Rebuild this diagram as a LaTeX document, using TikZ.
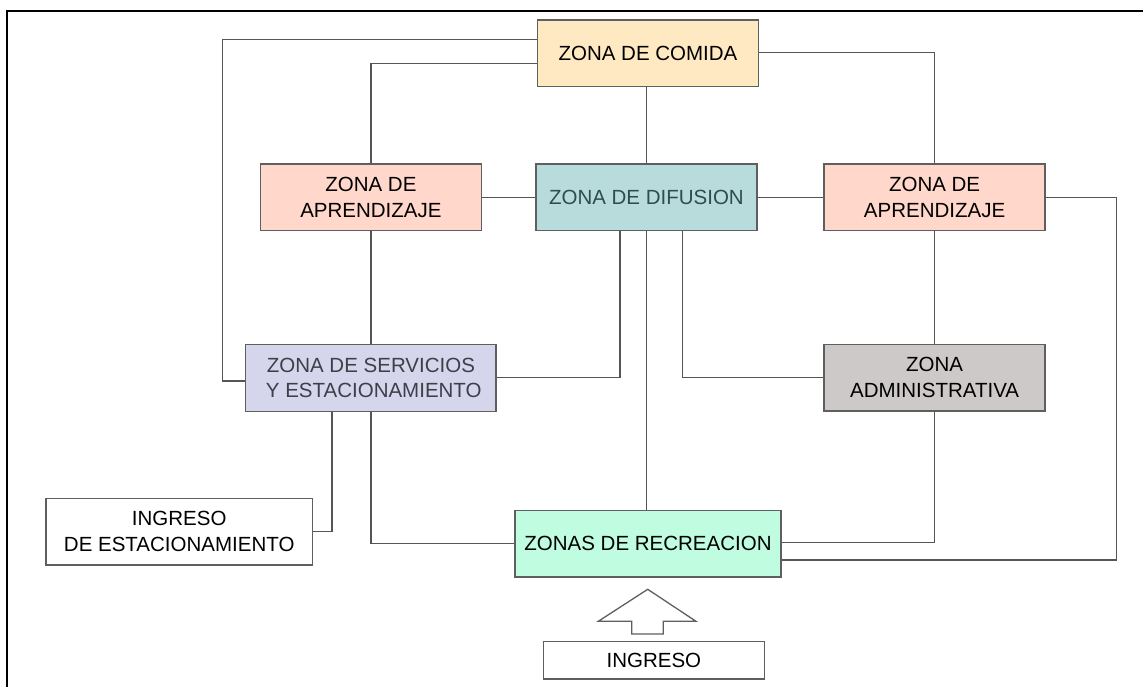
\documentclass[tikz,border=0pt]{standalone}
\usepackage{fontspec}
\setmainfont{Liberation Sans}
\definecolor{cComida}{HTML}{FFE9C2}
\definecolor{cApr}{HTML}{FFD7CB}
\definecolor{cDif}{HTML}{B8DCDC}
\definecolor{cServ}{HTML}{D5D5EB}
\definecolor{cAdm}{HTML}{CDC9C9}
\definecolor{cRec}{HTML}{C0FCDF}
\definecolor{cBorder}{HTML}{5F5F5F}
\definecolor{cLine}{HTML}{555555}
\definecolor{tDif}{HTML}{2E4D4D}
\definecolor{tServ}{HTML}{3F3F4A}
\begin{document}
\begin{tikzpicture}[x=1pt,y=-1pt,
  zone/.style={draw=cBorder, line width=1.5pt, inner sep=0pt, align=center,
    minimum width=221pt, minimum height=66.5pt,
    font=\fontsize{20.5}{25.6}\selectfont},
  link/.style={draw=cLine, line width=1.4pt, line join=miter}]
\useasboundingbox (0,0) rectangle (1143,687);
% frame (left and top edges visible)
\draw[line width=2.2pt, black] (7,687) -- (7,10.7) -- (1143,10.7);

% nodes
\node[zone, fill=cComida] (comida) at (648,53.3) {ZONA DE COMIDA};
\node[zone, fill=cApr] (aprL) at (370.9,197.5) {ZONA DE\\APRENDIZAJE};
\node[zone, fill=cDif, text=tDif] (dif) at (646.4,197.5) {ZONA DE DIFUSION};
\node[zone, fill=cApr] (aprR) at (934.6,197.5) {ZONA DE\\APRENDIZAJE};
\node[zone, fill=cServ, text=tServ, minimum width=250.5pt, minimum height=67.4pt] (serv) at (370.9,378) {ZONA DE SERVICIOS\\\ Y ESTACIONAMIENTO};
\node[zone, fill=cAdm] (adm) at (934.6,377.5) {ZONA\\ADMINISTRATIVA};
\node[zone, fill=cRec, minimum width=266pt] (rec) at (648,543.6) {ZONAS DE RECREACION};
\node[zone, fill=white, minimum width=266.7pt] (ingEst) at (179.2,531.6) {INGRESO\\DE ESTACIONAMIENTO};
\node[zone, fill=white, minimum width=220.8pt, minimum height=37.3pt] (ing) at (653.9,660.3) {INGRESO};

% helper coordinates
\coordinate (c1) at (222.3,39.3);
\coordinate (c2) at (222.3,381);
\coordinate (c3) at (370.9,63.3);
\coordinate (c4) at (934.6,52.7);
\coordinate (c5) at (1116.7,197.5);
\coordinate (c6) at (1116.7,560);
\coordinate (c7) at (620,377.5);
\coordinate (c8) at (682.7,377.5);
\coordinate (c9) at (934.6,542.7);
\coordinate (c10) at (332,531.3);
\coordinate (c11) at (370.9,543.3);

% connectors
\draw[link] (comida.west |- c1) -- (c1) -- (c2) -- (serv.west |- c2);
\draw[link] (comida.west |- c3) -- (c3) -- (aprL.north);
\draw[link] (dif.north) -- (dif.north |- comida.south);
\draw[link] (comida.east |- c4) -- (c4) -- (aprR.north);
\draw[link] (aprL.east) -- (dif.west);
\draw[link] (dif.east) -- (aprR.west);
\draw[link] (aprR.east |- c5) -- (c5) -- (c6) -- (rec.east |- c6);
\draw[link] (aprL.south) -- (serv.north);
\draw[link] (dif.south -| c7) -- (c7) -- (serv.east |- c7);
\draw[link] (dif.south) -- (rec.north -| dif.south);
\draw[link] (dif.south -| c8) -- (c8) -- (adm.west |- c8);
\draw[link] (aprR.south) -- (adm.north);
\draw[link] (adm.south) -- (c9) -- (rec.east |- c9);
\draw[link] (serv.south -| c10) -- (c10) -- (ingEst.east |- c10);
\draw[link] (serv.south -| c11) -- (c11) -- (rec.west |- c11);

% block arrow towards recreation zone
\draw[draw=cBorder, line width=1.3pt, fill=white, line join=miter]
  (647.7,589.3) -- (696,621.3) -- (663.3,621.3) -- (663.3,634) -- (631.7,634) -- (631.7,621.3) -- (598.3,621.3) -- cycle;
\end{tikzpicture}
\end{document}
